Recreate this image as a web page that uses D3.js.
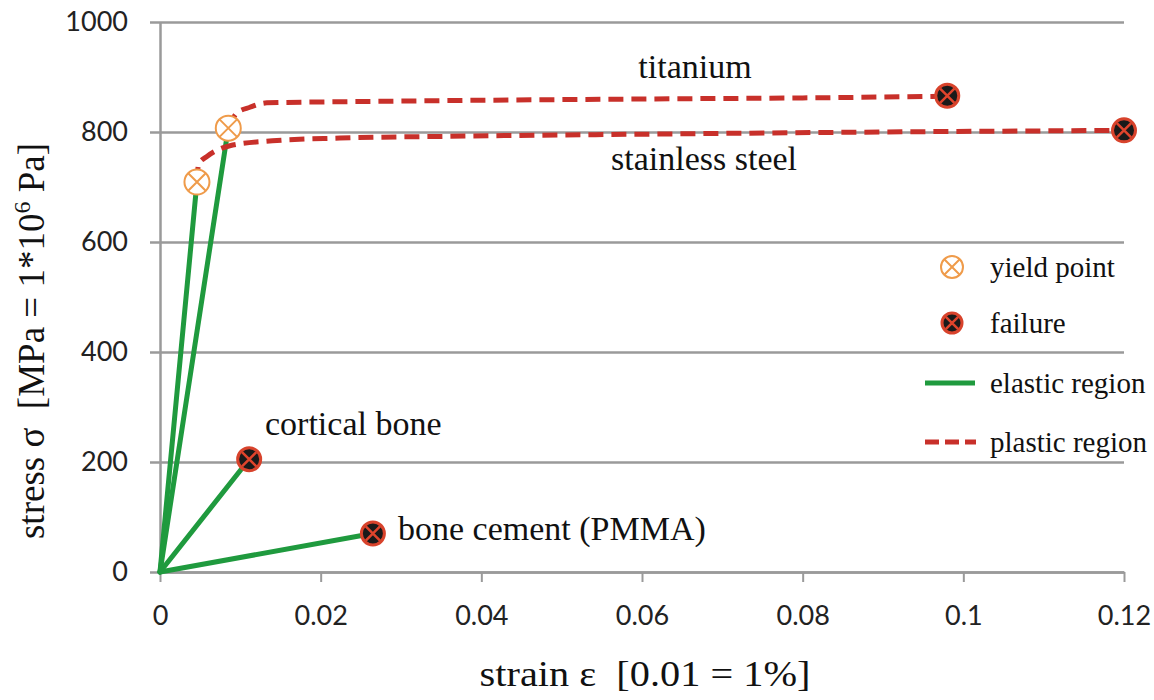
<!DOCTYPE html>
<html>
<head>
<meta charset="utf-8">
<script src="https://cdn.jsdelivr.net/npm/d3@7"></script>
<style>
  body { margin: 0; background: white; }
  svg { display: block; }
</style>
</head>
<body>
<script>
const width = 1154;
const height = 700;
const margin = { top: 22, right: 30, bottom: 128, left: 160 };

// axis ticks
const strainTicks = [0, 0.02, 0.04, 0.06, 0.08, 0.1, 0.12];
const strainTickLabels = ["0", "0.02", "0.04", "0.06", "0.08", "0.1", "0.12"];
const stressTicks = [0, 200, 400, 600, 800, 1000];

// elastic region: straight line from origin to yield (or failure)
const materials = ["stainless steel", "titanium", "cortical bone", "bone cement (PMMA)"];
const elasticStrain = [0.0046, 0.0085, 0.0111, 0.0265];
const elasticStress = [709, 807, 205, 70];

// plastic region [strain, stress]
const steelPlastic = [[0.0046, 709], [0.0048, 742], [0.0058, 755], [0.0087, 775], [0.014, 784],
  [0.0224, 789], [0.035, 792], [0.06, 796], [0.09, 800], [0.12, 803]];
const titaniumPlastic = [[0.0085, 807], [0.0096, 835], [0.0112, 845], [0.0133, 853], [0.0224, 855],
  [0.035, 857], [0.06, 860], [0.08, 862], [0.098, 865]];

// markers
const yieldPoints = [[0.0046, 709], [0.0085, 807]];
const failurePoints = [[0.098, 866], [0.12, 803], [0.0111, 205], [0.0265, 70]];

const green = "#1f9a3e";
const red = "#c8302a";
const grid = "#9a9a9a";
const serif = "'Liberation Serif', 'Times New Roman', serif";
const sans = "Lato, 'Open Sans', sans-serif";

const svg = d3.select("body").append("svg")
  .attr("width", width)
  .attr("height", height);

const x = d3.scaleLinear()
  .domain([0, 0.12])
  .range([margin.left, width - margin.right]);

const y = d3.scaleLinear()
  .domain([0, 1000])
  .range([height - margin.bottom, margin.top]);

// horizontal gridlines + left tick stubs
const yAxis = d3.axisLeft(y)
  .tickValues(stressTicks)
  .tickFormat(d3.format("d"))
  .tickSize(-(width - margin.right - margin.left))
  .tickSizeOuter(0)
  .tickPadding(32);

const yAxisG = svg.append("g")
  .attr("transform", `translate(${margin.left}, 0)`)
  .call(yAxis);

yAxisG.select(".domain").attr("stroke", grid).attr("stroke-width", 2.5);
yAxisG.selectAll(".tick line")
  .attr("stroke", grid)
  .attr("stroke-width", 2.5)
  .attr("x1", -10);
yAxisG.selectAll(".tick text")
  .attr("font-family", sans)
  .attr("font-size", 27)
  .attr("fill", "#222");

const xAxis = d3.axisBottom(x)
  .tickValues(strainTicks)
  .tickFormat((d, i) => strainTickLabels[i])
  .tickSize(10)
  .tickSizeOuter(0)
  .tickPadding(24);

const xAxisG = svg.append("g")
  .attr("transform", `translate(0, ${height - margin.bottom})`)
  .call(xAxis);

xAxisG.select(".domain").attr("stroke", grid).attr("stroke-width", 2.5);
xAxisG.selectAll(".tick line").attr("stroke", grid).attr("stroke-width", 2);
xAxisG.selectAll(".tick text")
  .attr("font-family", sans)
  .attr("font-size", 27)
  .attr("fill", "#222");

// elastic lines
svg.append("g")
  .selectAll("line")
  .data(materials)
  .join("line")
  .attr("x1", x(0))
  .attr("y1", y(0))
  .attr("x2", (d, i) => x(elasticStrain[i]))
  .attr("y2", (d, i) => y(elasticStress[i]))
  .attr("stroke", green)
  .attr("stroke-width", 5)
  .attr("stroke-linecap", "round");

// plastic curves
const plasticLine = d3.line()
  .x(d => x(d[0]))
  .y(d => y(d[1]))
  .curve(d3.curveMonotoneX);

svg.append("g")
  .selectAll("path")
  .data([steelPlastic, titaniumPlastic])
  .join("path")
  .attr("d", plasticLine)
  .attr("fill", "none")
  .attr("stroke", red)
  .attr("stroke-width", 5)
  .attr("stroke-dasharray", "15 8");

// marker helpers
function yieldMarker(g, r) {
  const k = r * 0.68;
  g.append("circle").attr("r", r).attr("fill", "white").attr("stroke", "#ef9b4a").attr("stroke-width", 2);
  g.append("path")
    .attr("d", `M${-k},${-k}L${k},${k}M${-k},${k}L${k},${-k}`)
    .attr("stroke", "#ef9b4a").attr("stroke-width", 2);
}

function failureMarker(g, r) {
  const k = r * 0.62;
  g.append("circle").attr("r", r).attr("fill", "#1a1a1a").attr("stroke", "#d8432c").attr("stroke-width", 3);
  g.append("path")
    .attr("d", `M${-k},${-k}L${k},${k}M${-k},${k}L${k},${-k}`)
    .attr("stroke", "#e0442c").attr("stroke-width", 2.5);
}

svg.append("g")
  .selectAll("g")
  .data(yieldPoints)
  .join("g")
  .attr("transform", d => `translate(${x(d[0])}, ${y(d[1])})`)
  .each(function () { yieldMarker(d3.select(this), 12.5); });

svg.append("g")
  .selectAll("g")
  .data(failurePoints)
  .join("g")
  .attr("transform", d => `translate(${x(d[0])}, ${y(d[1])})`)
  .each(function () { failureMarker(d3.select(this), 11.5); });

// curve labels
const labels = svg.append("g")
  .attr("font-family", serif)
  .attr("font-size", 34)
  .attr("fill", "#111");

labels.append("text").attr("x", 695).attr("y", 78).attr("text-anchor", "middle").text("titanium");
labels.append("text").attr("x", 704).attr("y", 170).attr("text-anchor", "middle").text("stainless steel");
labels.append("text").attr("x", 265).attr("y", 435).text("cortical bone");
labels.append("text").attr("x", 398).attr("y", 540).text("bone cement (PMMA)");

// axis titles (source image is a bit wider than tall, hence the x stretch)
svg.append("text")
  .attr("transform", "translate(645, 686) scale(1.12, 1)")
  .attr("text-anchor", "middle")
  .attr("font-family", serif)
  .attr("font-size", 36)
  .attr("fill", "#111")
  .attr("xml:space", "preserve")
  .text("strain \u03b5  [0.01 = 1%]");

const yTitle = svg.append("text")
  .attr("transform", "translate(44, 341) rotate(-90)")
  .attr("text-anchor", "middle")
  .attr("font-family", serif)
  .attr("font-size", 37)
  .attr("fill", "#111")
  .attr("xml:space", "preserve");

yTitle.append("tspan").text("stress \u03c3  [MPa = 1*10");
yTitle.append("tspan").attr("font-size", 24).attr("dy", -14).text("6");
yTitle.append("tspan").attr("dy", 14).text(" Pa]");

// legend
const legend = svg.append("g")
  .attr("font-family", serif)
  .attr("font-size", 29)
  .attr("fill", "#111");

yieldMarker(legend.append("g").attr("transform", "translate(952, 267)"), 11);
failureMarker(legend.append("g").attr("transform", "translate(952, 323)"), 10);

legend.append("line")
  .attr("x1", 925).attr("x2", 975).attr("y1", 383).attr("y2", 383)
  .attr("stroke", green).attr("stroke-width", 5);

legend.append("line")
  .attr("x1", 925).attr("x2", 976).attr("y1", 442).attr("y2", 442)
  .attr("stroke", red).attr("stroke-width", 5).attr("stroke-dasharray", "14 6");

legend.append("text").attr("x", 990).attr("y", 277).text("yield point");
legend.append("text").attr("x", 990).attr("y", 333).text("failure");
legend.append("text").attr("x", 990).attr("y", 393).text("elastic region");
legend.append("text").attr("x", 990).attr("y", 452).text("plastic region");
</script>
</body>
</html>
